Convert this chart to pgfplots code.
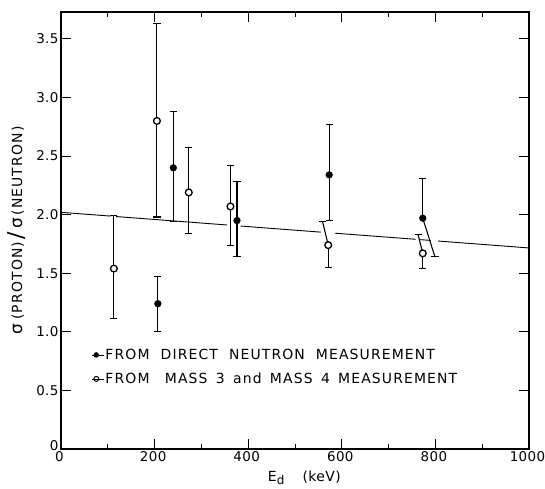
\documentclass[border=0pt]{standalone}
\usepackage{pgfplots}
\pgfplotsset{compat=1.18}
\usepackage{fontspec}
\setmainfont{DejaVu Sans}
\newfontfamily\lett[LetterSpace=3]{DejaVu Sans}
\newfontfamily\legf[LetterSpace=8]{DejaVu Sans}
\begin{document}
\begin{tikzpicture}
\useasboundingbox (-61bp,-40bp) rectangle (484bp,449bp);
\begin{axis}[
  at={(0,0)}, anchor=south west,
  scale only axis, width=468bp, height=437bp,
  xmin=0, xmax=1000, ymin=0, ymax=3.73,
  xtick={0,200,400,600,800,1000},
  xticklabels={0,200,400,600,800,1000},
  minor xtick={100,300,500,700,900},
  ytick={0,0.5,1,1.5,2,2.5,3,3.5},
  yticklabels={\raisebox{6bp}{0},0.5,1.0,1.5,2.0,2.5,3.0,3.5},
  tick align=inside,
  major tick length=10bp, minor tick length=5bp,
  every tick/.style={black, line width=1pt},
  axis line style={line width=1.4pt},
  /pgf/number format/assume math mode=true,
  tick label style={font=\lett\fontsize{13.5}{13.5}\selectfont},
  xticklabel style={yshift=1bp, xshift=-1.5bp},
  yticklabel style={xshift=1bp},
  xlabel={E\raisebox{-0.45ex}{\fontsize{12}{12}\selectfont d}\hspace{1.3em}(keV)},
  xlabel style={font=\lett\fontsize{14}{14}\selectfont, at={(axis description cs:0.52,0)}, anchor=center, yshift=-29bp},
  ylabel={{\fontsize{17}{17}\selectfont σ}\hspace{0.3em}(PROTON)\hspace{0.2em}\raisebox{-0.25ex}{\fontsize{22}{22}\selectfont /}\hspace{0.2em}{\fontsize{17}{17}\selectfont σ}\hspace{0.2em}(NEUTRON)},
  ylabel style={font=\legf\fontsize{14}{14}\selectfont, at={(axis description cs:-0.094,0.5)}, anchor=center},
  clip=false,
  legend style={at={(axis cs:66,0.70)}, anchor=west, draw=none, fill=none, inner sep=0pt,
    row sep=10bp, font=\legf\fontsize{14}{14}\selectfont,
    nodes={inner sep=1bp}},
  legend cell align=left,
  legend image code/.code={\draw[#1] plot coordinates {(0bp,0bp)}; \path (-4bp,0bp) -- (8bp,0bp);},
]
% fitted curve (with breaks where error bars cross it)
\addplot[black, line width=0.9pt, forget plot] coordinates {(0,2.02) (106,1.988)};
\addplot[black, line width=0.9pt, forget plot] coordinates {(118,1.984) (355,1.912)};
\addplot[black, line width=0.9pt, forget plot] coordinates {(384,1.903) (555,1.851)};
\addplot[black, line width=0.9pt, forget plot] coordinates {(585,1.842) (758,1.790)};
\addplot[black, line width=0.9pt, forget plot] coordinates {(768,1.787) (790,1.780)};
\addplot[black, line width=0.9pt, forget plot] coordinates {(806,1.775) (1000,1.716)};

% slanted error bars
\addplot[black, line width=1.1pt, forget plot] coordinates {(571,1.74) (559,1.94)};
\addplot[black, line width=1.1pt, forget plot] coordinates {(773,1.67) (763,1.83)};
\addplot[black, line width=1.1pt, forget plot] coordinates {(773,1.97) (799,1.64)};
\addplot[only marks, mark=-, mark size=3.6pt, mark options={line width=1.1pt}, forget plot] coordinates {(559,1.94) (763,1.83) (799,1.64)};

% open circles: mass 3 and mass 4 measurement
\addplot[only marks, mark=*, mark size=3.4pt, mark options={fill=white, draw=black, line width=1.3pt}, forget plot,
  error bars/.cd, y dir=both, y explicit, error bar style={line width=1.1pt, black},
  error mark options={rotate=90, mark size=3.6pt, line width=1.1pt}]
  coordinates {
  (113,1.54) += (0,0.45) -= (0,0.43)
  (205,2.80) += (0,0.83) -= (0,0.82)
  (273,2.19) += (0,0.38) -= (0,0.35)
  (362,2.07) += (0,0.35) -= (0,0.33)
  };
\addplot[only marks, mark=*, mark size=3.4pt, mark options={fill=white, draw=black, line width=1.3pt}, forget plot,
  error bars/.cd, y dir=minus, y explicit, error bar style={line width=1.1pt, black},
  error mark options={rotate=90, mark size=3.6pt, line width=1.1pt}]
  coordinates {
  (571,1.74) -= (0,0.19)
  (773,1.67) -= (0,0.13)
  };

% filled circles: direct neutron measurement
\addplot[only marks, mark=*, mark size=3.4pt, mark options={fill=black, draw=black}, forget plot,
  error bars/.cd, y dir=both, y explicit, error bar style={line width=1.1pt, black},
  error mark options={rotate=90, mark size=3.6pt, line width=1.1pt}]
  coordinates {
  (207,1.24) += (0,0.23) -= (0,0.24)
  (240,2.40) += (0,0.48) -= (0,0.46)
  (376,1.95) += (0,0.33) -= (0,0.31)
  (573,2.34) += (0,0.43) -= (0,0.39)
  };
\addplot[only marks, mark=*, mark size=3.4pt, mark options={fill=black, draw=black}, forget plot,
  error bars/.cd, y dir=plus, y explicit, error bar style={line width=1.1pt, black},
  error mark options={rotate=90, mark size=3.6pt, line width=1.1pt}]
  coordinates {
  (773,1.97) += (0,0.34)
  };

\addlegendimage{only marks, mark=*, mark size=2.5pt, mark options={fill=black, draw=black}}
\addlegendentry{FROM\hspace{0.8em}DIRECT\hspace{0.8em}NEUTRON\hspace{0.8em}MEASUREMENT}
\addlegendimage{only marks, mark=*, mark size=2.5pt, mark options={fill=white, draw=black, line width=1pt}}
\addlegendentry{FROM\hspace{1.1em}MASS\hspace{0.6em}3\hspace{0.6em}and\hspace{0.6em}MASS\hspace{0.6em}4\hspace{0.6em}MEASUREMENT}
\end{axis}
\end{tikzpicture}
\end{document}
